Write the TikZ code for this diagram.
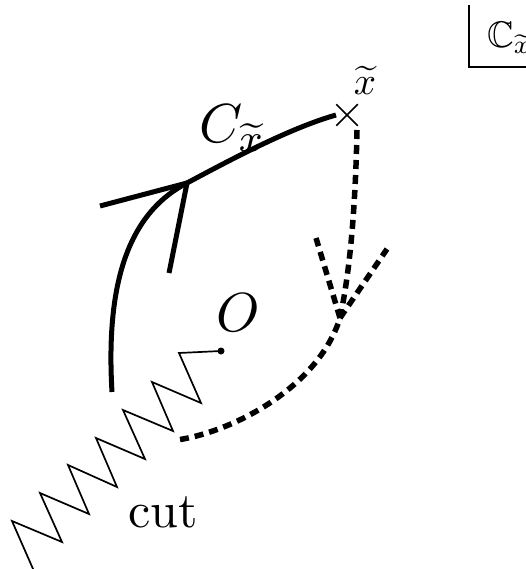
\documentclass[tikz,border=0pt]{standalone}
\usepackage{amssymb}
\usetikzlibrary{shapes.misc}
\begin{document}
\begin{tikzpicture}[x=1pt,y=-1pt,
  thickline/.style={line width=5pt},
  dashline/.style={line width=5.5pt, dash pattern=on 9pt off 6pt},
  thinline/.style={line width=1.7pt, line join=miter},
  lbl/.style={inner sep=0pt, outer sep=0pt, font=\fontsize{10}{12}\selectfont}]
\useasboundingbox (0,0) rectangle (526,569);
\clip (0,0) rectangle (526,569);

% origin dot and cut (zigzag)
\node[circle, fill=black, inner sep=0pt, minimum size=7pt] (dot) at (221,351) {};
\coordinate (z1) at (179,353);
\coordinate (z2) at (201,403);
\coordinate (z3) at (152,382);
\coordinate (z4) at (173,431);
\coordinate (z5) at (123,410);
\coordinate (z6) at (145,459);
\coordinate (z7) at (96,438);
\coordinate (z8) at (117,487);
\coordinate (z9) at (68,465);
\coordinate (z10) at (89,514);
\coordinate (z11) at (40,493);
\coordinate (z12) at (62,542);
\coordinate (z13) at (12,521);
\coordinate (z14) at (37,578);
\draw[thinline] (dot.center) -- (z1) -- (z2) -- (z3) -- (z4) -- (z5) -- (z6) -- (z7)
  -- (z8) -- (z9) -- (z10) -- (z11) -- (z12) -- (z13) -- (z14);

% cross at x-tilde
\node[cross out, draw, line width=1.5pt, minimum size=20pt, inner sep=0pt] (xt) at (347,115) {};

% solid contour C_x
\coordinate (s0) at (112,392);
\coordinate (J) at (187,183);
\coordinate (E) at (336,115);
\draw[thickline] (s0) .. controls (106,290) and (125,215) .. (J)
  .. controls (230,160) and (290,128) .. (E);
\coordinate (b1) at (100,206);
\coordinate (b2) at (169,273);
\draw[thickline] (b1) -- (J) -- (b2);

% dashed contour
\coordinate (d0) at (357,130);
\coordinate (T) at (340,318);
\coordinate (d1) at (177,440);
\draw[dashline] (d0) .. controls (355,230) and (347,285) .. (T)
  .. controls (318,388) and (232,432) .. (d1);
\coordinate (c1) at (316,238);
\coordinate (c2) at (387,249);
\draw[dashline] (T) -- (c1);
\draw[dashline] (T) -- (c2);

% labels
\node[lbl, anchor=base west] (Clab) at (199,143) {\scalebox{5.5}{$C_{\widetilde{x}}$}};
\node[lbl, anchor=base] (xlab) at (365,95) {\scalebox{3.9}{$\widetilde{x}$}};
\node[lbl, anchor=base] (Olab) at (238,331) {\scalebox{5.5}{$O$}};
\node[lbl, anchor=base] (cutlab) at (163,527) {\scalebox{5}{cut}};

% corner box
\coordinate (k0) at (469,5);
\coordinate (k1) at (469,67);
\coordinate (k2) at (530,67);
\draw[line width=1.6pt] (k0) -- (k1) -- (k2);
\node[lbl, anchor=base west] (blab) at (487,48) {\scalebox{3.7}{$\mathbb{C}_{\widetilde{x}}$}};
\end{tikzpicture}
\end{document}
